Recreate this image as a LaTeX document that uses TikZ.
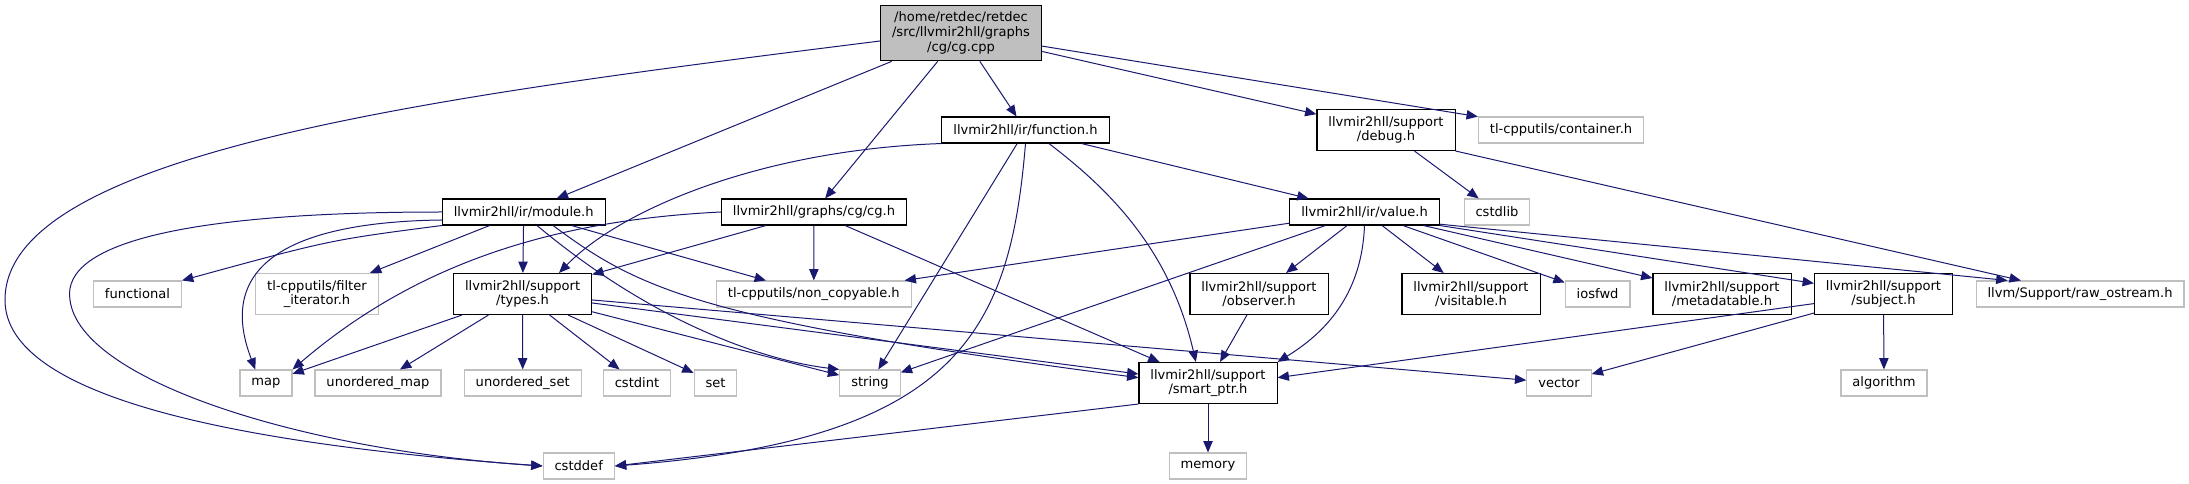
\documentclass[tikz,border=0pt]{standalone}
\usepackage{fontspec}
\setmainfont{DejaVu Sans}
\definecolor{dxedge}{RGB}{25,25,112}
\definecolor{dxgray}{RGB}{191,191,191}
\definecolor{dxroot}{RGB}{191,191,191}
\usetikzlibrary{arrows.meta,positioning}
\tikzset{
  hfile/.style={draw=black, fill=white, line width=0.8pt, minimum height=19.5pt, inner xsep=8.6pt, inner ysep=1pt, align=center, font=\fontsize{9.8}{11}\selectfont},
  sysfile/.style={hfile, draw=dxgray},
  twoline/.style={minimum height=30.75pt},
  incl/.style={draw=dxedge, line width=0.75pt, -{Triangle[length=8.5pt,width=7pt]}}
}

\begin{document}
\begin{tikzpicture}[x=0.75pt, y=-0.75pt]
  \useasboundingbox (0,0) rectangle (2189,484);

  %% Root file
  \node[hfile, fill=dxroot, minimum height=41.8pt] (cgcpp) at (961,33) {/home/retdec/retdec\\/src/llvmir2hll/graphs\\/cg/cg.cpp};

  %% Row 1
  \node[hfile] (funch) at (1025.5,130) {llvmir2hll/ir/function.h};
  \node[hfile, twoline] (debugh) at (1386,130) {llvmir2hll/support\\/debug.h};
  \node[sysfile] (containerh) at (1561,130) {tl-cpputils/container.h};

  %% Row 2
  \node[hfile] (modh) at (523.7,212) {llvmir2hll/ir/module.h};
  \node[hfile] (cgh) at (814,212) {llvmir2hll/graphs/cg/cg.h};
  \node[hfile] (valueh) at (1364.5,212) {llvmir2hll/ir/value.h};
  \node[sysfile] (cstdlib) at (1497,212) {cstdlib};

  %% Row 3
  \node[sysfile] (functional) at (137.5,294) {functional};
  \node[sysfile, twoline] (filterit) at (317,294) {tl-cpputils/filter\\\_iterator.h};
  \node[hfile, twoline] (typesh) at (522.6,294) {llvmir2hll/support\\/types.h};
  \node[sysfile] (noncopy) at (813.8,294) {tl-cpputils/non\_copyable.h};
  \node[hfile, twoline] (observerh) at (1259,294) {llvmir2hll/support\\/observer.h};
  \node[hfile, twoline] (visitableh) at (1471,294) {llvmir2hll/support\\/visitable.h};
  \node[sysfile] (iosfwd) at (1597.6,294) {iosfwd};
  \node[hfile, twoline] (metadatah) at (1722,294) {llvmir2hll/support\\/metadatable.h};
  \node[hfile, twoline] (subjecth) at (1883.5,294) {llvmir2hll/support\\/subject.h};
  \node[sysfile] (rawos) at (2080,294) {llvm/Support/raw\_ostream.h};

  %% Row 4
  \node[sysfile] (map) at (266,383) {map};
  \node[sysfile] (umap) at (378,383) {unordered\_map};
  \node[sysfile] (uset) at (522.7,383) {unordered\_set};
  \node[sysfile] (cstdint) at (637,383) {cstdint};
  \node[sysfile] (stdset) at (715.5,383) {set};
  \node[sysfile] (stringh) at (870,383) {string};
  \node[hfile, twoline] (smartptr) at (1208,383) {llvmir2hll/support\\/smart\_ptr.h};
  \node[sysfile] (vector) at (1559,383) {vector};
  \node[sysfile] (algorithm) at (1884,383) {algorithm};

  %% Row 5
  \node[sysfile] (cstddef) at (578.7,466) {cstddef};
  \node[sysfile] (memory) at (1208,466) {memory};

  %% cg.cpp
  \draw[incl] (cgcpp) -- (modh);
  \draw[incl] (cgcpp) -- (cgh);
  \draw[incl] (cgcpp) -- (funch);
  \draw[incl] (cgcpp) -- (debugh);
  \draw[incl] (cgcpp) -- (containerh);
  \draw[incl] ([yshift=-6pt]cgcpp.west) .. controls (450,95) and (5,150) .. (5,300) .. controls (5,400) and (250,445) .. (cstddef.west);

  %% module.h
  \draw[incl] (modh.west) .. controls (200,212) and (60,240) .. (70,300) .. controls (80,380) and (300,450) .. (cstddef.west);
  \draw[incl] ([yshift=-6pt]modh.west) .. controls (290,222) and (215,265) .. ([xshift=-8pt]map.north);
  \draw[incl] (modh.south west) .. controls (330,240) .. (functional.north east);
  \draw[incl] (modh) -- (filterit);
  \draw[incl] (modh) -- (typesh);
  \draw[incl] (modh) -- (noncopy);
  \draw[incl] ([xshift=10pt]modh.south) .. controls (650,320) and (760,360) .. (stringh.north west);
  \draw[incl] ([xshift=22pt]modh.south) .. controls (640,290) and (700,320) .. ([yshift=4pt]smartptr.west);

  %% graphs/cg/cg.h
  \draw[incl] (cgh.west) .. controls (560,220) and (420,260) .. (map.north east);
  \draw[incl] (cgh) -- (typesh);
  \draw[incl] (cgh) -- (noncopy);
  \draw[incl] (cgh) -- (smartptr);

  %% ir/function.h
  \draw[incl] (funch.south west) .. controls (760,150) and (620,210) .. (typesh.30);
  \draw[incl] (funch) -- (stringh);
  \draw[incl] (funch.south) .. controls (1010,330) and (960,440) .. (cstddef.east);
  \draw[incl] (funch.-30) .. controls (1110,190) and (1170,250) .. (smartptr.120);
  \draw[incl] (funch) -- (valueh);

  %% support/debug.h
  \draw[incl] (debugh) -- (cstdlib);
  \draw[incl] (debugh.south east) -- ([xshift=34pt]rawos.north west);

  %% ir/value.h
  \draw[incl] (valueh) -- (noncopy);
  \draw[incl] (valueh) -- (stringh);
  \draw[incl] (valueh) -- (observerh);
  \draw[incl] (valueh.south) .. controls (1362,290) and (1330,330) .. (smartptr.north east);
  \draw[incl] (valueh) -- (visitableh);
  \draw[incl] (valueh) -- (iosfwd);
  \draw[incl] (valueh) -- (metadatah);
  \draw[incl] (valueh.south east) -- (subjecth);
  \draw[incl] ([yshift=1pt]valueh.south east) -- ([xshift=24pt]rawos.north west);

  %% support/types.h
  \draw[incl] (typesh) -- (map);
  \draw[incl] (typesh) -- (umap);
  \draw[incl] (typesh) -- (uset);
  \draw[incl] (typesh) -- (cstdint);
  \draw[incl] (typesh) -- (stdset);
  \draw[incl] (typesh) -- (stringh);
  \draw[incl] (typesh) -- (vector);
  \draw[incl] (typesh) -- (smartptr);

  %% observer.h, subject.h, smart_ptr.h
  \draw[incl] (observerh) -- (smartptr);
  \draw[incl] (subjecth) -- ([yshift=4pt]smartptr.east);
  \draw[incl] (subjecth) -- (vector);
  \draw[incl] (subjecth) -- (algorithm);
  \draw[incl] (smartptr) -- (memory);
  \draw[incl] (smartptr.south west) -- (cstddef.east);
\end{tikzpicture}
\end{document}
